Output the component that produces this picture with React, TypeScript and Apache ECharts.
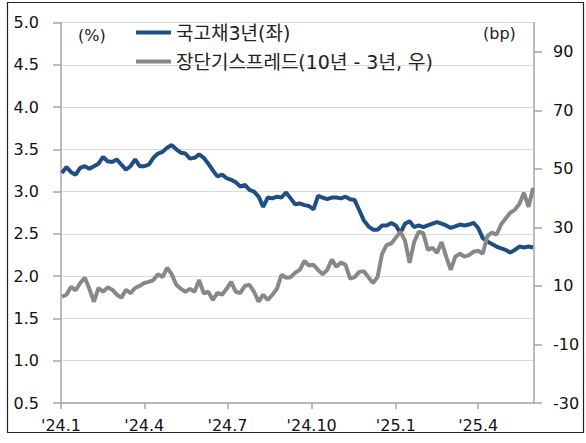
import React, { useEffect, useRef } from "react";
import * as echarts from "echarts";

const dates = [
  "2024-01-02","2024-01-07","2024-01-12","2024-01-17","2024-01-22","2024-01-27",
  "2024-02-01","2024-02-06","2024-02-11","2024-02-16","2024-02-21","2024-02-26",
  "2024-03-02","2024-03-07","2024-03-12","2024-03-17","2024-03-22","2024-03-27",
  "2024-04-01","2024-04-06","2024-04-11","2024-04-16","2024-04-21","2024-04-26",
  "2024-05-01","2024-05-06","2024-05-11","2024-05-16","2024-05-21","2024-05-26",
  "2024-05-31","2024-06-05","2024-06-10","2024-06-15","2024-06-20","2024-06-25",
  "2024-06-30","2024-07-05","2024-07-10","2024-07-15","2024-07-20","2024-07-25",
  "2024-07-30","2024-08-04","2024-08-09","2024-08-14","2024-08-19","2024-08-24",
  "2024-08-29","2024-09-03","2024-09-08","2024-09-13","2024-09-18","2024-09-23",
  "2024-09-28","2024-10-03","2024-10-08","2024-10-13","2024-10-18","2024-10-23",
  "2024-10-28","2024-11-02","2024-11-07","2024-11-12","2024-11-17","2024-11-22",
  "2024-11-27","2024-12-02","2024-12-07","2024-12-12","2024-12-17","2024-12-22",
  "2024-12-27","2025-01-01","2025-01-06","2025-01-11","2025-01-16","2025-01-21",
  "2025-01-26","2025-01-31","2025-02-05","2025-02-10","2025-02-15","2025-02-20",
  "2025-02-25","2025-03-02","2025-03-07","2025-03-12","2025-03-17","2025-03-22",
  "2025-03-27","2025-04-01","2025-04-06","2025-04-11","2025-04-16","2025-04-21",
  "2025-04-26","2025-05-01","2025-05-06","2025-05-11","2025-05-16","2025-05-21",
  "2025-05-26","2025-05-31"
];

const ktb3y = [
  3.22, 3.29, 3.23, 3.20, 3.28, 3.30, 3.27, 3.30, 3.33, 3.41, 3.36, 3.35,
  3.38, 3.32, 3.26, 3.30, 3.38, 3.30, 3.30, 3.32, 3.40, 3.45, 3.47, 3.52,
  3.55, 3.50, 3.46, 3.45, 3.39, 3.40, 3.44, 3.40, 3.33, 3.25, 3.18, 3.20,
  3.16, 3.14, 3.11, 3.06, 3.08, 3.02, 3.00, 2.94, 2.82, 2.93, 2.92, 2.94,
  2.93, 2.99, 2.92, 2.85, 2.86, 2.84, 2.83, 2.79, 2.95, 2.93, 2.91, 2.93,
  2.93, 2.92, 2.94, 2.91, 2.90, 2.78, 2.66, 2.59, 2.55, 2.55, 2.60, 2.60,
  2.63, 2.60, 2.51, 2.62, 2.65, 2.58, 2.60, 2.58, 2.60, 2.62, 2.64, 2.62,
  2.60, 2.57, 2.59, 2.61, 2.60, 2.61, 2.63, 2.57, 2.45, 2.41, 2.38, 2.35,
  2.33, 2.31, 2.28, 2.31, 2.35, 2.34, 2.35, 2.34
];

const spreadBp = [
  6.3, 7.0, 9.7, 8.5, 11.0, 12.8, 9.0, 4.6, 9.3, 8.0, 9.5, 8.7,
  7.0, 6.0, 8.7, 7.5, 9.3, 10.0, 11.0, 11.4, 12.0, 14.0, 13.0, 16.2,
  14.0, 10.4, 9.0, 8.0, 9.0, 8.0, 12.0, 7.5, 8.0, 5.2, 7.6, 7.0,
  9.0, 11.4, 8.0, 7.6, 10.0, 10.4, 8.0, 4.6, 7.0, 5.2, 7.0, 9.0,
  13.8, 12.8, 13.0, 14.5, 15.5, 18.5, 17.0, 17.2, 15.5, 14.0, 15.5, 19.0,
  16.5, 18.0, 17.2, 12.5, 13.0, 14.8, 15.0, 13.0, 11.0, 13.0, 21.0, 24.0,
  24.5, 26.5, 28.5, 25.5, 17.9, 25.0, 28.5, 28.0, 22.3, 23.0, 21.3, 25.0,
  20.0, 15.5, 20.0, 21.0, 20.0, 20.5, 21.7, 22.0, 21.0, 27.0, 28.2, 27.5,
  31.0, 33.0, 35.0, 36.0, 38.0, 41.8, 37.0, 43.5
];

const xTickDates = ["2024-01-01", "2024-04-01", "2024-07-01", "2024-10-01", "2025-01-01", "2025-04-01"];
const xStart = "2024-01-01";
const xEnd = "2025-06-01";
const rightTicks = [-30, -10, 10, 30, 50, 70, 90];
const seriesNames = ["국고채3년(좌)", "장단기스프레드(10년 - 3년, 우)"];

const FONT = "'DejaVu Sans', 'Noto Sans CJK KR', sans-serif";

function ts(s: string): number {
  const [y, m, d] = s.split("-").map(Number);
  return new Date(y, m - 1, d).getTime();
}

export default function App() {
  const ref = useRef<HTMLDivElement>(null);

  useEffect(() => {
    if (!ref.current) return;
    const chart = echarts.init(ref.current, undefined, { renderer: "svg" });
    const blueData = dates.map((d, i) => [ts(d), ktb3y[i]]);
    const grayData = dates.map((d, i) => [ts(d), spreadBp[i]]);
    const axisGray = "#A6A6A6";
    const xt = xTickDates.map(ts);
    chart.setOption({
      animation: false,
      backgroundColor: "#ffffff",
      textStyle: { fontFamily: FONT },
      grid: { left: 61, right: 52, top: 22.5, bottom: 40 },
      legend: {
        data: seriesNames,
        orient: "vertical",
        left: 131,
        top: 18,
        itemGap: 10,
        itemWidth: 35,
        itemHeight: 4,
        icon: "rect",
        textStyle: { fontFamily: FONT, fontSize: 19, color: "#222" },
      },
      graphic: [
        {
          type: "rect",
          shape: { x: 7.5, y: 2.5, width: 576, height: 430 },
          style: { fill: "none", stroke: "#222", lineWidth: 1.2 },
          silent: true,
          z: 0,
        },
        {
          type: "text",
          left: 78,
          top: 27,
          style: { text: "(%)", font: `16px ${FONT}`, fill: "#222" },
        },
        {
          type: "text",
          left: 483,
          top: 25,
          style: { text: "(bp)", font: `16px ${FONT}`, fill: "#222" },
        },
      ],
      xAxis: {
        type: "value",
        min: ts(xStart),
        max: ts(xEnd),
        axisLine: { show: true, onZero: false, lineStyle: { color: axisGray, width: 1.5 } },
        axisTick: {
          show: true,
          length: 6,
          customValues: xt,
          lineStyle: { color: axisGray, width: 1.5 },
        },
        axisLabel: {
          customValues: xt,
          margin: 14,
          fontSize: 16,
          color: "#111",
          fontFamily: FONT,
          formatter: (v: number) => {
            const d = new Date(v);
            return "'" + String(d.getFullYear()).slice(2) + "." + (d.getMonth() + 1);
          },
        },
        splitLine: { show: false },
      },
      yAxis: [
        {
          type: "value",
          min: 0.5,
          max: 5,
          interval: 0.5,
          position: "left",
          axisLine: { show: true, lineStyle: { color: axisGray, width: 1.5 } },
          axisTick: { show: true, length: 8, lineStyle: { color: axisGray, width: 1.5 } },
          axisLabel: {
            margin: 22,
            fontSize: 16,
            color: "#111",
            fontFamily: FONT,
            formatter: (v: number) => v.toFixed(1),
          },
          splitLine: { show: true, lineStyle: { color: "#D9D9D9", width: 1.2 } },
        },
        {
          type: "value",
          min: -30,
          max: 100,
          position: "right",
          axisLine: { show: true, lineStyle: { color: axisGray, width: 1.5 } },
          axisTick: {
            show: true,
            length: 8,
            customValues: rightTicks,
            lineStyle: { color: axisGray, width: 1.5 },
          },
          axisLabel: {
            customValues: rightTicks,
            margin: 19,
            fontSize: 16,
            color: "#111",
            fontFamily: FONT,
            align: "left",
          },
          splitLine: { show: false },
        },
      ],
      series: [
        {
          name: seriesNames[0],
          type: "line",
          yAxisIndex: 0,
          data: blueData,
          showSymbol: false,
          symbol: "none",
          lineStyle: { color: "#1F4E85", width: 4 },
          itemStyle: { color: "#1F4E85" },
          z: 3,
        },
        {
          name: seriesNames[1],
          type: "line",
          yAxisIndex: 1,
          data: grayData,
          showSymbol: false,
          symbol: "none",
          lineStyle: { color: "#888888", width: 4 },
          itemStyle: { color: "#888888" },
          z: 4,
        },
      ],
    });
    return () => chart.dispose();
  }, []);

  return (
    <div
      ref={ref}
      style={{ position: "fixed", left: 0, top: 0, width: 586, height: 443 }}
    />
  );
}
